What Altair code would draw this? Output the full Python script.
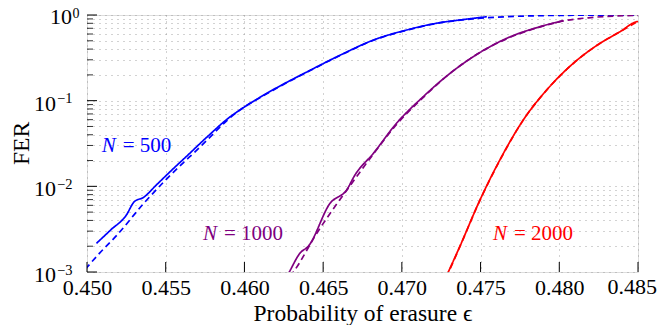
import altair as alt
import pandas as pd

# ---------------- data ----------------
x_ticks = [0.450, 0.455, 0.460, 0.465, 0.470, 0.475, 0.480, 0.485]
y_major = [0.001, 0.01, 0.1, 1.0]
y_major_exp = ["−3", "−2", "−1", "0"]
y_minor = [0.002, 0.003, 0.004, 0.005, 0.006, 0.007, 0.008, 0.009,
           0.02, 0.03, 0.04, 0.05, 0.06, 0.07, 0.08, 0.09,
           0.2, 0.3, 0.4, 0.5, 0.6, 0.7, 0.8, 0.9]

# N = 500
sim500_x = [0.4506, 0.4515, 0.4525, 0.4530, 0.4536, 0.4544, 0.4555, 0.4563, 0.4576,
            0.4591, 0.4597, 0.4618, 0.4640, 0.4661, 0.4682, 0.4703, 0.4724, 0.4737, 0.4754]
sim500_fer = [0.00216, 0.00309, 0.00462, 0.00661, 0.00745, 0.01035, 0.0162, 0.0222, 0.0373,
              0.0650, 0.0776, 0.1334, 0.2178, 0.3412, 0.5105, 0.6683, 0.8128, 0.8750, 0.955]
ana500_x = [0.4499, 0.4508, 0.4519, 0.4536, 0.4551, 0.4572, 0.4593, 0.4618, 0.4640, 0.4661,
            0.4682, 0.4703, 0.4724, 0.4745, 0.4766, 0.4787, 0.4810, 0.4850]
ana500_fer = [0.00108, 0.00166, 0.00269, 0.00631, 0.0124, 0.0290, 0.0681, 0.1318, 0.2163, 0.3388,
              0.5070, 0.6637, 0.8091, 0.9016, 0.955, 0.9817, 0.9931, 0.9988]

# N = 1000
sim1000_x = [0.4627, 0.46285, 0.46353, 0.46406, 0.46544, 0.46650, 0.46702, 0.46819, 0.46966,
             0.47136, 0.4726, 0.47454, 0.47666, 0.47878, 0.48026]
sim1000_fer = [0.000891, 0.00100, 0.00166, 0.00200, 0.00634, 0.00912, 0.01355, 0.02427, 0.05445,
               0.1114, 0.1778, 0.3266, 0.5346, 0.7311, 0.8590]
ana1000_x = [0.4629, 0.46311, 0.46459, 0.46713, 0.4682, 0.4697, 0.4714, 0.4726, 0.4745, 0.4767,
             0.4788, 0.4803, 0.4820, 0.4835, 0.4850]
ana1000_fer = [0.000891, 0.00100, 0.00282, 0.01297, 0.0240, 0.0537, 0.1109, 0.1770, 0.3236, 0.5309,
               0.7278, 0.8551, 0.9333, 0.9727, 0.9908]

# N = 2000
sim2000_x = [0.4728, 0.47295, 0.47369, 0.47496, 0.47623, 0.47771, 0.47920, 0.48089, 0.48259,
             0.48386, 0.48492, 0.4850]
sim2000_fer = [0.000871, 0.00100, 0.00200, 0.00692, 0.0204, 0.0594, 0.1334, 0.2729, 0.4677,
               0.6383, 0.8356, 0.840]
ana2000_x = [0.4728, 0.47300, 0.47372, 0.47498, 0.47625, 0.47772, 0.47921, 0.48090, 0.48260,
             0.48387, 0.4850]
ana2000_fer = [0.00087, 0.00103, 0.00205, 0.0070, 0.0205, 0.0597, 0.1336, 0.2733, 0.4680,
               0.6385, 0.843]

label_n = ["500", "1000", "2000"]
label_x = [0.45093, 0.45737, 0.47579]
label_fer = [0.02536, 0.002364, 0.002364]

colors = ["#0000ff", "#800080", "#ff0000"]
FONT = "Liberation Serif"

# ---------------- tables ----------------
rows = []
for n, kind, xs, ys in [
    ("500", "sim", sim500_x, sim500_fer), ("500", "ana", ana500_x, ana500_fer),
    ("1000", "sim", sim1000_x, sim1000_fer), ("1000", "ana", ana1000_x, ana1000_fer),
    ("2000", "sim", sim2000_x, sim2000_fer), ("2000", "ana", ana2000_x, ana2000_fer),
]:
    for i, (a, b) in enumerate(zip(xs, ys)):
        rows.append({"x": a, "fer": b, "N": n, "kind": kind, "series": n + kind, "i": i})
curves = pd.DataFrame(rows)

labels = pd.DataFrame({"x": label_x, "fer": label_fer, "N": label_n,
                       "rest": ["= " + n for n in label_n]})
ylab = pd.DataFrame({"fer": y_major, "exp": y_major_exp})
last_x = pd.DataFrame({"x": [x_ticks[-1]], "t": ["%.3f" % x_ticks[-1]]})

xscale = alt.Scale(domain=[0.450, 0.485], nice=False, zero=False)
yscale = alt.Scale(type="log", domain=[0.001, 1.0], nice=False)
cscale = alt.Scale(domain=label_n, range=colors)

x_axis = alt.Axis(values=x_ticks, title="Probability of erasure ϵ",
                  labelExpr="datum.value > 0.4849 ? '' : format(datum.value, '.3f')",
                  labelFont=FONT, labelFontSize=22, labelColor="black", labelPadding=5,
                  labelFlush=False, labelOverlap=False,
                  titleFont=FONT, titleFontSize=23.5, titleFontWeight="normal", titleColor="black",
                  titleY=48, titleBaseline="alphabetic",
                  ticks=False, tickSize=0, domain=False, grid=True,
                  gridDash=[1, 5], gridColor="#9a9a9a", gridWidth=0.9)
y_axis = alt.Axis(values=y_major + y_minor, labels=False, title="FER",
                  titleFont=FONT, titleFontSize=23.5, titleFontWeight="normal", titleColor="black",
                  titleX=-59, titleY=128, titleAngle=-90, titleAlign="center",
                  titleBaseline="alphabetic",
                  ticks=False, tickSize=0, domain=False, grid=True,
                  gridDash=[1, 5], gridColor="#9a9a9a", gridWidth=0.9)

lines = alt.Chart(curves).mark_line(strokeWidth=1.7, clip=True, interpolate="monotone").encode(
    x=alt.X("x:Q", scale=xscale, axis=x_axis),
    y=alt.Y("fer:Q", scale=yscale, axis=y_axis),
    color=alt.Color("N:N", scale=cscale, legend=None),
    strokeDash=alt.StrokeDash("kind:N", scale=alt.Scale(domain=["sim", "ana"],
                                                        range=[[1, 0], [6, 4]]), legend=None),
    detail="series:N",
    order="i:Q",
)

ymaj = alt.Chart(pd.DataFrame({"fer": y_major})).mark_rule(color="black", strokeWidth=1).encode(
    y="fer:Q", x=alt.value(0), x2=alt.value(10))
ymin = alt.Chart(pd.DataFrame({"fer": y_minor})).mark_rule(color="black", strokeWidth=0.8).encode(
    y="fer:Q", x=alt.value(0), x2=alt.value(6))
xmaj = alt.Chart(pd.DataFrame({"x": x_ticks})).mark_rule(color="black", strokeWidth=1).encode(
    x="x:Q", y=alt.value(257), y2=alt.value(247))

# last x tick label, kept inside the page
last_lab = alt.Chart(last_x).mark_text(
    font=FONT, fontSize=22, align="right", baseline="top", dx=19, color="black"
).encode(x="x:Q", y=alt.value(262), text="t:N")

# y tick labels: "10" with a superscript exponent
base_top = alt.Chart(ylab).transform_filter("datum.fer == 1").mark_text(
    font=FONT, fontSize=22, align="right", baseline="alphabetic", dy=9, color="black"
).encode(y="fer:Q", x=alt.value(-15), text=alt.value("10"))
base_rest = alt.Chart(ylab).transform_filter("datum.fer < 1").mark_text(
    font=FONT, fontSize=22, align="right", baseline="alphabetic", dy=10, color="black"
).encode(y="fer:Q", x=alt.value(-31), text=alt.value("10"))
exp_lab = alt.Chart(ylab).transform_filter("datum.fer < 1").mark_text(
    font=FONT, fontSize=14.5, align="left", baseline="alphabetic", dy=2.5, color="black"
).encode(y="fer:Q", x=alt.value(-30), text="exp:N")
exp_top = alt.Chart(ylab).transform_filter("datum.fer == 1").mark_text(
    font=FONT, fontSize=14, align="left", baseline="alphabetic", dy=3, color="black"
).encode(y="fer:Q", x=alt.value(-14.5), text="exp:N")

lab_n = alt.Chart(labels).mark_text(font=FONT, fontSize=21, fontStyle="italic", align="left",
                                    baseline="alphabetic").encode(
    x="x:Q", y="fer:Q", text=alt.value("N"), color=alt.Color("N:N", scale=cscale, legend=None))
lab_rest = alt.Chart(labels).mark_text(font=FONT, fontSize=21, align="left", dx=21,
                                       baseline="alphabetic").encode(
    x="x:Q", y="fer:Q", text="rest:N", color=alt.Color("N:N", scale=cscale, legend=None))

chart = alt.layer(lines, ymaj, ymin, xmaj, last_lab, base_top, base_rest, exp_lab, exp_top,
                  lab_n, lab_rest).properties(
    width=551, height=257,
    autosize=alt.AutoSizeParams(type="none"),
    padding={"left": 79, "top": 7, "right": 19, "bottom": 53},
).configure_view(stroke="black", strokeWidth=1.2).configure(background="white")

chart.save("out.html", embed_options={"renderer": "svg", "actions": False})
